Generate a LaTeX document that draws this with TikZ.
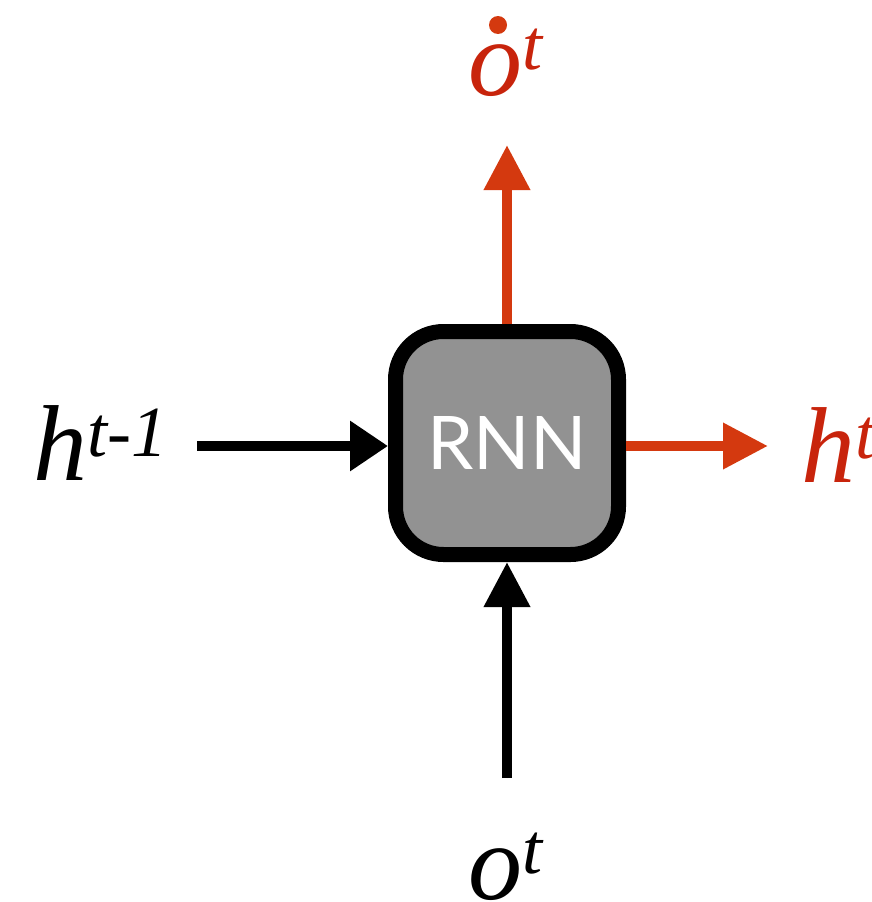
\documentclass[tikz,border=0pt]{standalone}
\usepackage{fontspec}
\setmainfont{Liberation Serif}
\newfontfamily\cellfont{Lato}
\usetikzlibrary{arrows.meta}

\definecolor{cellgray}{HTML}{929292}
\definecolor{outred}{HTML}{D4390F}
\definecolor{labelred}{HTML}{C8240C}

\newcommand{\supsc}[2]{\raisebox{#1}{\fontsize{72}{72}\selectfont #2}}

\tikzset{
  cell/.style={draw=black, line width=15pt, fill=cellgray, rounded corners=48pt,
    minimum width=223pt, minimum height=223pt, inner sep=0pt, text=white,
    font=\cellfont\fontsize{74}{74}\selectfont},
  flow/.style={line width=10pt, -{Triangle[length=45pt 0 0,width=44pt 0 0]}},
  inflow/.style={flow, draw=black, fill=black},
  sideflow/.style={inflow, -{Triangle[length=38pt 0 0,width=48pt 0 0]}},
  outflow/.style={flow, draw=outred, fill=outred},
  var/.style={inner sep=0pt, anchor=base west, font=\itshape\fontsize{108}{108}\selectfont},
  outvar/.style={var, text=labelred},
}

\begin{document}
\begin{tikzpicture}[x=1pt, y=-1pt]
  \useasboundingbox (0,0) rectangle (871,902);

  % recurrent cell
  \node[cell] (cell) at (507,443) {RNN};

  % labels
  \node[var] (hprev) at (33,480) {h\supsc{24pt}{t-1}};
  \node[outvar] (hnext) at (801,482) {h\supsc{24pt}{t}};
  \node[outvar] (oout) at (468,95) {o\supsc{26pt}{t}};
  \node[circle, fill=outred, inner sep=0pt, minimum size=18pt] (odot) at (498,25) {};
  \node[var] (oin) at (468,899) {o\supsc{26pt}{t}};

  % connector ends
  \coordinate (hsrc) at (197,446);
  \coordinate (odst) at (507,145);
  \coordinate (osrc) at (507,778);
  \coordinate (hdst) at (768,446);

  % inputs
  \draw[sideflow] (hsrc) -- (hsrc -| cell.west);
  \draw[inflow] (osrc) -- (cell.south);

  % outputs
  \draw[outflow] (cell.north) -- (odst);
  \draw[outflow] (hdst -| cell.east) -- (hdst);
\end{tikzpicture}
\end{document}
